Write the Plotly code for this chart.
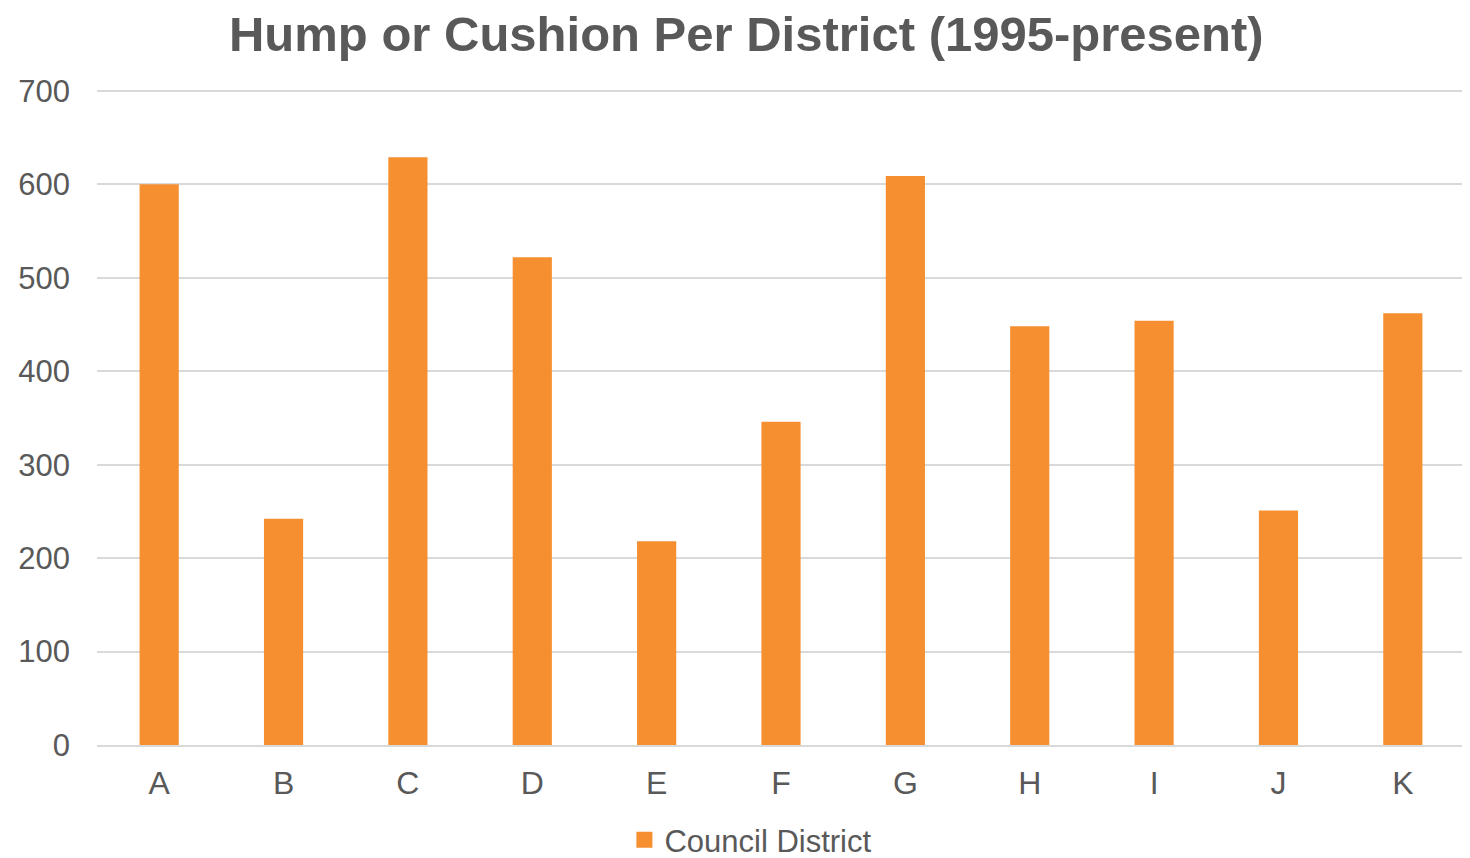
import plotly.graph_objects as go

districts = ["A", "B", "C", "D", "E", "F", "G", "H", "I", "J", "K"]
counts = [600, 242, 629, 522, 218, 346, 609, 448, 454, 251, 462]
y_ticks = [0, 100, 200, 300, 400, 500, 600, 700]
bar_color = "#F68F30"

fig = go.Figure()
fig.add_trace(go.Bar(
    x=districts, y=counts, name="Council District", showlegend=False,
    marker=dict(color=bar_color, line=dict(width=0)),
))
# legend entry with a larger square swatch
fig.add_trace(go.Scatter(
    x=[None], y=[None], mode="markers", name="Council District",
    marker=dict(symbol="square", size=16, color=bar_color),
))

fig.update_layout(
    width=1462, height=850,
    paper_bgcolor="white", plot_bgcolor="white",
    margin=dict(l=89, r=5, t=81, b=113, autoexpand=False),
    bargap=0.685,
    title=dict(text="<b>Hump or Cushion Per District (1995-present)</b>",
               x=0.505, xanchor="center", y=0.9694, yanchor="middle",
               font=dict(family="Liberation Sans, Arial", size=49, color="#595959")),
    font=dict(family="Liberation Sans, Arial", color="#595959"),
    showlegend=True,
    legend=dict(orientation="h", x=0.478, xanchor="center", y=-0.1448, yanchor="middle",
                font=dict(size=31, color="#595959"), itemwidth=30),
    xaxis=dict(tickfont=dict(size=32, color="#595959"), showgrid=False,
               showline=True, linecolor="#D9D9D9", linewidth=2, ticks="",
               ticklabelstandoff=9),
    yaxis=dict(range=[0, 702], tickvals=y_ticks, tickfont=dict(size=31, color="#595959"),
               gridcolor="#D9D9D9", gridwidth=1.5, zeroline=False, showline=False,
               ticks="", ticklabelstandoff=26),
)

fig.write_html("out.html")
